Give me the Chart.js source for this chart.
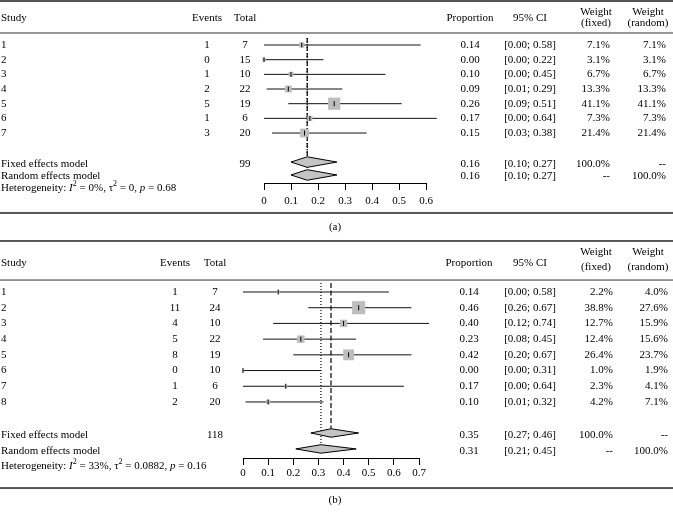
<!DOCTYPE html>
<html>
<head>
<meta charset="utf-8">
<script src="https://cdn.jsdelivr.net/npm/chart.js@4"></script>
<style>
  html, body { margin: 0; padding: 0; background: #fff; }
  #wrap { position: relative; width: 673px; height: 516px; }
  canvas { position: absolute; left: 0; }
  #chartA { top: 0; }
  #chartB { top: 240px; }
</style>
</head>
<body>
<div id="wrap">
  <canvas id="chartA" width="673" height="240"></canvas>
  <canvas id="chartB" width="673" height="276"></canvas>
</div>
<script>
// panel (a)
const studiesA = ["1", "2", "3", "4", "5", "6", "7"];
const eventsA = [1, 0, 1, 2, 5, 1, 3];
const totalsA = [7, 15, 10, 22, 19, 6, 20];
const propA = [0.14, 0.00, 0.10, 0.09, 0.26, 0.17, 0.15];
const lowerA = [0.00, 0.00, 0.00, 0.01, 0.09, 0.00, 0.03];
const upperA = [0.58, 0.22, 0.45, 0.29, 0.51, 0.64, 0.38];
const wFixedA = [7.1, 3.1, 6.7, 13.3, 41.1, 7.3, 21.4];
const wRandomA = [7.1, 3.1, 6.7, 13.3, 41.1, 7.3, 21.4];
const pooledA = [0.16, 0.16];        // fixed, random
const pooledLowerA = [0.10, 0.10];
const pooledUpperA = [0.27, 0.27];
const ticksA = [0, 0.1, 0.2, 0.3, 0.4, 0.5, 0.6];

// panel (b)
const studiesB = ["1", "2", "3", "4", "5", "6", "7", "8"];
const eventsB = [1, 11, 4, 5, 8, 0, 1, 2];
const totalsB = [7, 24, 10, 22, 19, 10, 6, 20];
const propB = [0.14, 0.46, 0.40, 0.23, 0.42, 0.00, 0.17, 0.10];
const lowerB = [0.00, 0.26, 0.12, 0.08, 0.20, 0.00, 0.00, 0.01];
const upperB = [0.58, 0.67, 0.74, 0.45, 0.67, 0.31, 0.64, 0.32];
const wFixedB = [2.2, 38.8, 12.7, 12.4, 26.4, 1.0, 2.3, 4.2];
const wRandomB = [4.0, 27.6, 15.9, 15.6, 23.7, 1.9, 4.1, 7.1];
const pooledB = [0.35, 0.31];
const pooledLowerB = [0.27, 0.21];
const pooledUpperB = [0.46, 0.45];
const ticksB = [0, 0.1, 0.2, 0.3, 0.4, 0.5, 0.6, 0.7];

// heterogeneity, one entry per panel
const hetI2 = [0, 33];
const hetTau2 = [0, 0.0882];
const hetP = [0.68, 0.16];
const panelLabels = ["(a)", "(b)"];

const FONT = '"Liberation Serif", "DejaVu Serif", serif';
Chart.defaults.font.family = FONT;
Chart.defaults.font.size = 11;
Chart.defaults.color = "#000";

const panelA = {
  studies: studiesA, events: eventsA, totals: totalsA, prop: propA, lower: lowerA, upper: upperA,
  wFixed: wFixedA, wRandom: wRandomA, pooled: pooledA, pooledLower: pooledLowerA, pooledUpper: pooledUpperA,
  ticks: ticksA, idx: 0,
  padLeft: 264, padRight: 247, padBottom: 35, tickPad: 5, rMin: -2.068, rMax: 10.407,
  rows: { top: -2.0, head: -0.84, w1: -1.25, w2: -0.47, rule: 0.18, refTop: 0.52,
          fixText: 9.11, fixDia: 8.98, ranText: 9.93, ranDia: 9.86, het: 10.75, bottom: 12.45, label: 13.41 },
  diaH: 0.36, sq: 1.9,
  col: { events: 207, total: 245, prop: 470, ci: 530, wf: 610, wr: 666, wfHead: 596, wrHead: 648 }
};

const panelB = {
  studies: studiesB, events: eventsB, totals: totalsB, prop: propB, lower: lowerB, upper: upperB,
  wFixed: wFixedB, wRandom: wRandomB, pooled: pooledB, pooledLower: pooledLowerB, pooledUpper: pooledUpperB,
  ticks: ticksB, idx: 1,
  padLeft: 243, padRight: 254, padBottom: 36, tickPad: 2, rMin: -2.31, rMax: 11.567,
  rows: { top: -2.25, head: -0.85, w1: -1.55, w2: -0.59, rule: 0.24, refTop: 0.43,
          fixText: 10.10, fixDia: 9.975, ranText: 11.12, ranDia: 10.99, het: 12.08, bottom: 13.48, label: 14.24 },
  diaH: 0.27, sq: 2.1,
  col: { events: 175, total: 215, prop: 469, ci: 530, wf: 613, wr: 668, wfHead: 596, wrHead: 648 }
};

function ciText(lo, hi) {
  return `[${lo.toFixed(2)}; ${hi.toFixed(2)}]`;
}

function pct(w) {
  return `${w.toFixed(1)}%`;
}

function buildDatasets(p) {
  const sets = [];
  const rowOf = i => i + 1;

  // estimate ticks (drawn on top)
  sets.push({
    order: 0, showLine: false,
    data: p.prop.map((v, i) => ({ x: v, y: rowOf(i) })),
    pointStyle: "line", pointRotation: 90, pointRadius: 2.5,
    pointBorderColor: "#000", pointBorderWidth: 1, clip: false
  });

  // weight squares
  sets.push({
    order: 1, showLine: false,
    data: p.prop.map((v, i) => ({ x: v, y: rowOf(i) })),
    pointStyle: "rect",
    pointRadius: ctx => p.sq * Math.sqrt(p.wFixed[ctx.dataIndex]) / Math.SQRT2,
    pointBackgroundColor: "#bdbdbd", pointBorderWidth: 0, clip: false
  });

  // pooled diamonds
  [p.rows.fixDia, p.rows.ranDia].forEach((r, k) => {
    sets.push({
      order: 2, fill: "shape", tension: 0,
      data: [
        { x: p.pooledLower[k], y: r },
        { x: p.pooled[k], y: r - p.diaH },
        { x: p.pooledUpper[k], y: r },
        { x: p.pooled[k], y: r + p.diaH },
        { x: p.pooledLower[k], y: r }
      ],
      borderColor: "#000", borderWidth: 1, backgroundColor: "#c4c4c4",
      pointRadius: 0, clip: false
    });
  });

  // confidence intervals
  p.prop.forEach((v, i) => {
    sets.push({
      order: 3,
      data: [{ x: p.lower[i], y: rowOf(i) }, { x: p.upper[i], y: rowOf(i) }],
      borderColor: "#111", borderWidth: 1, pointRadius: 0, clip: false
    });
  });

  // fixed (dashed) and random (dotted) reference lines
  sets.push({
    order: 4,
    data: [{ x: p.pooled[0], y: p.rows.refTop }, { x: p.pooled[0], y: p.rows.fixDia - p.diaH }],
    borderColor: "#000", borderWidth: 1.2, borderDash: [5, 2.5], pointRadius: 0, clip: false
  });
  sets.push({
    order: 4,
    data: [{ x: p.pooled[1], y: p.rows.refTop }, { x: p.pooled[1], y: p.rows.ranDia - p.diaH }],
    borderColor: "#000", borderWidth: 1.2, borderDash: [1, 2], pointRadius: 0, clip: false
  });
  return sets;
}

function drawHet(ctx, x, y, i2, tau2, pv) {
  const parts = [
    ["Heterogeneity: ", "n"], ["I", "i"], ["2", "s"], [` = ${i2}%, `, "n"],
    ["\u03c4", "n"], ["2", "s"], [` = ${tau2}, `, "n"], ["p", "i"], [` = ${pv.toFixed(2)}`, "n"]
  ];
  ctx.textAlign = "left";
  for (const [t, k] of parts) {
    ctx.font = k === "i" ? `italic 11px ${FONT}` : k === "s" ? `8px ${FONT}` : `11px ${FONT}`;
    ctx.fillText(t, x, k === "s" ? y - 4 : y);
    x += ctx.measureText(t).width;
  }
}

function textPlugin(p) {
  return {
    id: "forestText",
    afterDraw(chart) {
      const ctx = chart.ctx;
      const Y = r => chart.scales.y.getPixelForValue(r);
      const c = p.col;
      const W = chart.width;
      ctx.save();
      ctx.textBaseline = "middle";
      ctx.font = `11px ${FONT}`;
      const put = (s, x, r, align) => {
        ctx.textAlign = align;
        ctx.fillText(String(s), x, Y(r));
      };

      // rules
      ctx.fillStyle = "#555";
      ctx.fillRect(0, Y(p.rows.top) - 1, W, 2);
      ctx.fillRect(0, Y(p.rows.bottom) - 1, W, 2);
      ctx.fillStyle = "#777";
      ctx.fillRect(0, Y(p.rows.rule) - 0.75, W, 1.5);
      ctx.fillStyle = "#000";

      // header
      put("Study", 1, p.rows.head, "left");
      put("Events", c.events, p.rows.head, "center");
      put("Total", c.total, p.rows.head, "center");
      put("Proportion", c.prop, p.rows.head, "center");
      put("95% CI", c.ci, p.rows.head, "center");
      put("Weight", c.wfHead, p.rows.w1, "center");
      put("(fixed)", c.wfHead, p.rows.w2, "center");
      put("Weight", c.wrHead, p.rows.w1, "center");
      put("(random)", c.wrHead, p.rows.w2, "center");

      // studies
      p.studies.forEach((s, i) => {
        const r = i + 1;
        put(s, 1, r, "left");
        put(p.events[i], c.events, r, "center");
        put(p.totals[i], c.total, r, "center");
        put(p.prop[i].toFixed(2), c.prop, r, "center");
        put(ciText(p.lower[i], p.upper[i]), c.ci, r, "center");
        put(pct(p.wFixed[i]), c.wf, r, "right");
        put(pct(p.wRandom[i]), c.wr, r, "right");
      });

      // pooled rows
      const total = p.totals.reduce((a, b) => a + b, 0);
      put("Fixed effects model", 1, p.rows.fixText, "left");
      put(total, c.total, p.rows.fixText, "center");
      put(p.pooled[0].toFixed(2), c.prop, p.rows.fixText, "center");
      put(ciText(p.pooledLower[0], p.pooledUpper[0]), c.ci, p.rows.fixText, "center");
      put("100.0%", c.wf, p.rows.fixText, "right");
      put("--", c.wr, p.rows.fixText, "right");

      put("Random effects model", 1, p.rows.ranText, "left");
      put(p.pooled[1].toFixed(2), c.prop, p.rows.ranText, "center");
      put(ciText(p.pooledLower[1], p.pooledUpper[1]), c.ci, p.rows.ranText, "center");
      put("--", c.wf, p.rows.ranText, "right");
      put("100.0%", c.wr, p.rows.ranText, "right");

      drawHet(ctx, 1, Y(p.rows.het), hetI2[p.idx], hetTau2[p.idx], hetP[p.idx]);

      ctx.font = `11px ${FONT}`;
      put(panelLabels[p.idx], 335, p.rows.label, "center");
      ctx.restore();
    }
  };
}

function makePanel(canvasId, p) {
  return new Chart(document.getElementById(canvasId), {
    type: "line",
    data: { datasets: buildDatasets(p) },
    options: {
      responsive: false,
      animation: false,
      devicePixelRatio: 1,
      events: [],
      layout: { autoPadding: false, padding: { left: p.padLeft, right: p.padRight, top: 0, bottom: p.padBottom } },
      plugins: { legend: { display: false }, tooltip: { enabled: false } },
      scales: {
        x: {
          type: "linear",
          min: p.ticks[0],
          max: p.ticks[p.ticks.length - 1],
          afterBuildTicks: s => { s.ticks = p.ticks.map(v => ({ value: v })); },
          afterFit: s => { s.height = 22; },
          ticks: { callback: v => String(v), autoSkip: false, maxRotation: 0, padding: p.tickPad, color: "#000",
                   font: { family: FONT, size: 11 } },
          grid: { display: true, drawOnChartArea: false, drawTicks: true, tickLength: 7, color: "#000" },
          border: { display: true, color: "#000", width: 1 }
        },
        y: { type: "linear", display: false, reverse: true, min: p.rMin, max: p.rMax }
      }
    },
    plugins: [textPlugin(p)]
  });
}

makePanel("chartA", panelA);
makePanel("chartB", panelB);
</script>
</body>
</html>
